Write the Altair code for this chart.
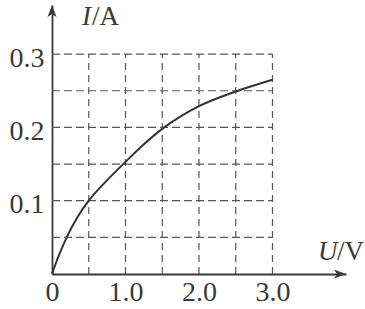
import altair as alt
import pandas as pd

# curve data
U = [0, 0.05, 0.1, 0.2, 0.35, 0.5, 0.75, 1.0, 1.25, 1.5, 1.75, 2.0, 2.5, 3.0]
I = [0, 0.014, 0.027, 0.05, 0.078, 0.1, 0.128, 0.153, 0.177, 0.198, 0.215, 0.229, 0.249, 0.265]

grid_x = [0.5, 1.0, 1.5, 2.0, 2.5, 3.0]
grid_y = [0.05, 0.1, 0.15, 0.2, 0.25, 0.3]
x_ticks = [0, 1, 2, 3]
y_ticks = [0.1, 0.2, 0.3]

FONT = "Liberation Serif"
INK = "#3a3a3a"

curve = pd.DataFrame({"U": U, "I": I})
vgrid = pd.DataFrame({"U": grid_x, "y0": [0] * len(grid_x), "y1": [0.3] * len(grid_x)})
hgrid = pd.DataFrame({"I": grid_y, "x0": [0] * len(grid_y), "x1": [3.0] * len(grid_y)})
one = pd.DataFrame({"k": [0]})

xs = alt.Scale(domain=[0, 4.0], nice=False, zero=False)
ys = alt.Scale(domain=[0, 0.367], nice=False, zero=False)

x_axis = alt.Axis(values=x_ticks, labelExpr="datum.value == 0 ? '0' : format(datum.value, '.1f')",
                  title=None, grid=False, ticks=False, domainColor=INK, domainWidth=1.8,
                  labelFont=FONT, labelFontSize=28, labelColor=INK, labelPadding=4,
                  labelFlush=False)
y_axis = alt.Axis(values=y_ticks, format=".1f", title=None, grid=False, ticks=False,
                  domainColor=INK, domainWidth=1.8, labelFont=FONT, labelFontSize=28,
                  labelColor=INK, labelPadding=8, labelOffset=4)

vlines = alt.Chart(vgrid).mark_rule(color="#555", strokeWidth=1.2, strokeDash=[7, 5]).encode(
    x=alt.X("U:Q", scale=xs, axis=x_axis),
    y=alt.Y("y0:Q", scale=ys, axis=y_axis),
    y2="y1:Q",
)
hlines = alt.Chart(hgrid).mark_rule(color="#555", strokeWidth=1.2, strokeDash=[8, 4]).encode(
    y=alt.Y("I:Q", scale=ys),
    x=alt.X("x0:Q", scale=xs),
    x2="x1:Q",
)
line = alt.Chart(curve).mark_line(color="#333", strokeWidth=2, interpolate="monotone").encode(
    x=alt.X("U:Q", scale=xs), y=alt.Y("I:Q", scale=ys)
)

base = alt.Chart(one)
arrow_up = base.mark_point(shape="M0,-1L0.6,0.6L0,0.2L-0.6,0.6Z", filled=True, color=INK,
                           size=225, opacity=1).encode(x=alt.value(0), y=alt.value(7.5))
arrow_right = base.mark_point(shape="M1,0L-0.6,0.6L-0.2,0L-0.6,-0.6Z", filled=True, color=INK,
                              size=225, opacity=1).encode(x=alt.value(294 - 7.5), y=alt.value(269))

lbl = dict(font=FONT, fontSize=27, color=INK, align="left", baseline="alphabetic")
t_I = base.mark_text(text="I", fontStyle="italic", **lbl).encode(x=alt.value(30), y=alt.value(20))
t_A = base.mark_text(text="/A", **lbl).encode(x=alt.value(40), y=alt.value(20))
t_U = base.mark_text(text="U", fontStyle="italic", **lbl).encode(x=alt.value(266), y=alt.value(255))
t_V = base.mark_text(text="/V", **lbl).encode(x=alt.value(285), y=alt.value(255))

chart = alt.layer(vlines, hlines, line, arrow_up, arrow_right, t_I, t_A, t_U, t_V).properties(
    width=294, height=269,
    autosize=alt.AutoSizeParams(type="none"),
    padding={"left": 52, "top": 5, "right": 19, "bottom": 35},
    background="white",
).configure_view(stroke=None)

chart.save("out.html", embed_options={"renderer": "svg", "actions": False})
